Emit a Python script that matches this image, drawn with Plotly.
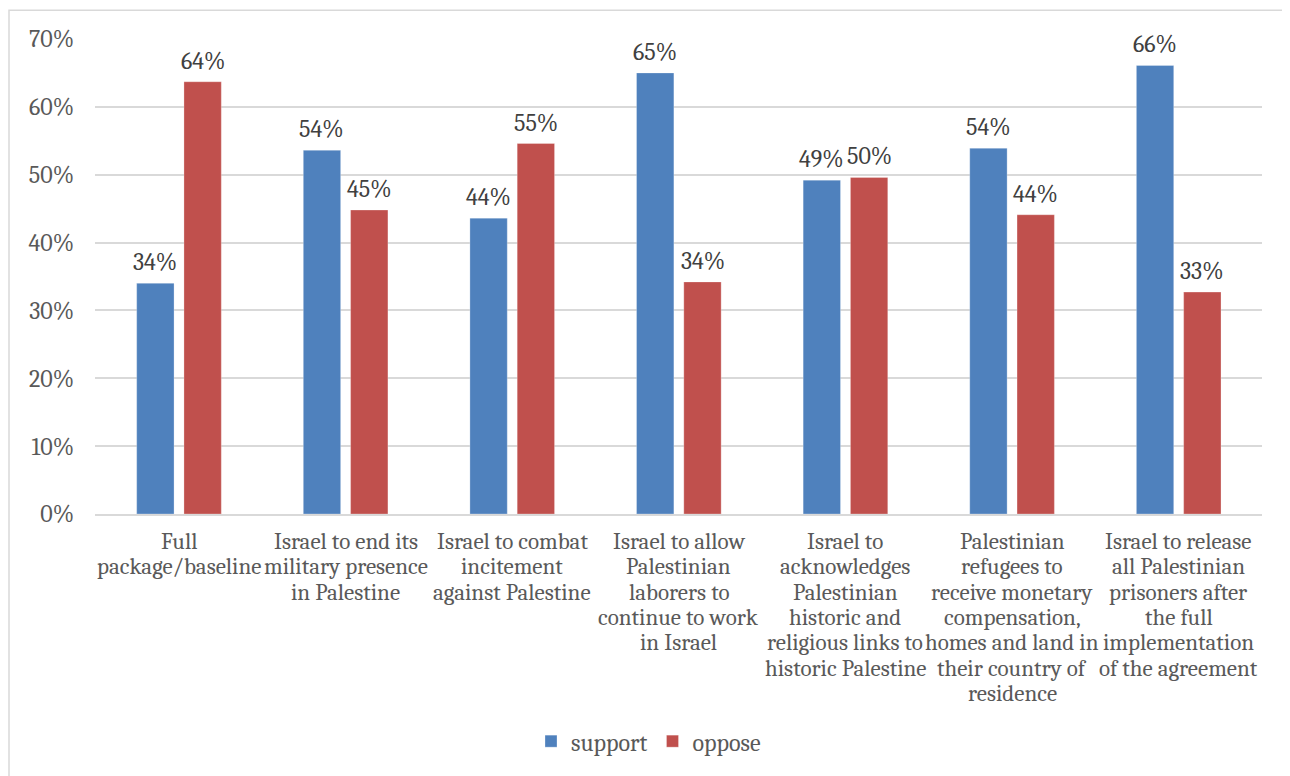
import plotly.graph_objects as go

categories = [
    "Full<br>package/baseline",
    "Israel to end its<br>military presence<br>in Palestine",
    "Israel to combat<br>incitement<br>against Palestine",
    "Israel to allow<br>Palestinian<br>laborers to<br>continue to work<br>in Israel",
    "Israel to<br>acknowledges<br>Palestinian<br>historic and<br>religious links to<br>historic Palestine",
    "Palestinian<br>refugees to<br>receive monetary<br>compensation,<br>homes and land in<br>their country of<br>residence",
    "Israel to release<br>all Palestinian<br>prisoners after<br>the full<br>implementation<br>of the agreement",
]
support = [34.0, 53.6, 43.6, 65.0, 49.2, 53.9, 66.1]
oppose = [63.7, 44.8, 54.6, 34.2, 49.6, 44.1, 32.7]
y_ticks = [0, 10, 20, 30, 40, 50, 60, 70]

FONT = "Cambria, Caladea, 'Liberation Serif', serif"
TXT = "#595959"

W, H = 1282, 768
L, R, T, B = 87, 28, 31, 259
PW = W - L - R
PH = H - T - B
BARGAP, GROUPGAP = 0.4325, 0.21
CAT_W = PW / len(categories)
SLOT = CAT_W * (1 - BARGAP) / 2

fig = go.Figure()
fig.add_trace(go.Bar(
    name="support", x=categories, y=support,
    marker=dict(color="#4F81BD", line=dict(color="rgba(255,255,255,0.35)", width=0.8)),
))
fig.add_trace(go.Bar(
    name="oppose", x=categories, y=oppose,
    marker=dict(color="#C0504D", line=dict(color="rgba(255,255,255,0.35)", width=0.8)),
))

annotations = []
# value labels above each bar
for series, sign in ((support, -1), (oppose, 1)):
    for cat, v in zip(categories, series):
        annotations.append(dict(
            x=cat, y=v, xref="x", yref="y", text=f"{round(v + 1e-9):d}%", showarrow=False,
            xanchor="center", yanchor="bottom", xshift=sign * SLOT / 2, yshift=5,
            font=dict(family=FONT, size=24, color="#404040"),
        ))

# category labels: one annotation per line for tighter line spacing
LINE_H = 25.3
FIRST = 27.6
for cat in categories:
    for j, line in enumerate(cat.split("<br>")):
        annotations.append(dict(
            x=cat, y=0, xref="x", yref="y", text=line, showarrow=False,
            xanchor="center", yanchor="middle", yshift=-(FIRST + j * LINE_H),
            font=dict(family=FONT, size=23, color=TXT),
        ))

fig.update_layout(
    width=W, height=H,
    margin=dict(l=L, r=R, t=T, b=B),
    paper_bgcolor="white", plot_bgcolor="white",
    barmode="group", bargap=BARGAP, bargroupgap=GROUPGAP,
    font=dict(family=FONT, size=24, color=TXT),
    showlegend=True,
    legend=dict(orientation="h", x=0.5 - 30 / PW, xanchor="center", y=(H - B - 738) / PH,
                yanchor="middle",
                font=dict(family=FONT, size=24, color=TXT), itemwidth=30,
                traceorder="normal"),
    annotations=annotations,
    shapes=[dict(type="rect", xref="paper", yref="paper",
                 x0=(1 - L) / PW, x1=(1300 - L) / PW,
                 y0=(H - B - 790) / PH, y1=(H - B - 2) / PH,
                 line=dict(color="#D9D9D9", width=1.5), fillcolor="rgba(0,0,0,0)", layer="below")],
)
fig.update_yaxes(range=[0, 70], tickvals=y_ticks, ticktext=[f"{v}%" for v in y_ticks],
                 showgrid=True, gridcolor="#D9D9D9", gridwidth=1.5, zeroline=False,
                 showline=False, ticklabelstandoff=20,
                 tickfont=dict(family=FONT, size=24, color=TXT))
fig.update_xaxes(showline=True, linecolor="#D9D9D9", linewidth=2, tickangle=0,
                 ticks="", showticklabels=False)

fig.write_html("out.html")
